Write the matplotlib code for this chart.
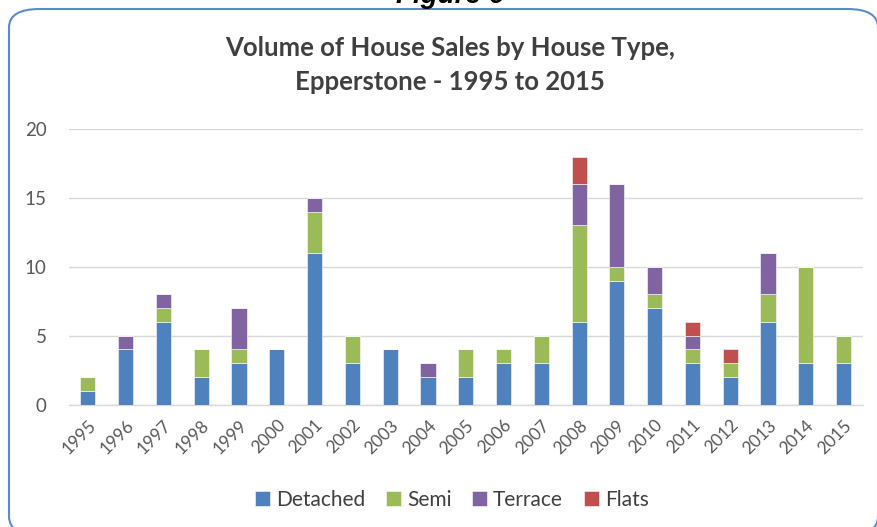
import matplotlib
matplotlib.use("Agg")
import matplotlib.pyplot as plt
from matplotlib.patches import FancyBboxPatch
import numpy as np

years = [str(y) for y in range(1995, 2016)]
detached = [1, 4, 6, 2, 3, 4, 11, 3, 4, 2, 2, 3, 3, 6, 9, 7, 3, 2, 6, 3, 3]
semi     = [1, 0, 1, 2, 1, 0, 3, 2, 0, 0, 2, 1, 2, 7, 1, 1, 1, 1, 2, 7, 2]
terrace  = [0, 1, 1, 0, 3, 0, 1, 0, 0, 1, 0, 0, 0, 3, 6, 2, 1, 0, 3, 0, 0]
flats    = [0, 0, 0, 0, 0, 0, 0, 0, 0, 0, 0, 0, 0, 2, 0, 0, 1, 1, 0, 0, 0]

series = [("Detached", detached, "#4F81BD"),
          ("Semi", semi, "#9BBB59"),
          ("Terrace", terrace, "#8064A2"),
          ("Flats", flats, "#C0504D")]

W, H = 877, 527
fig = plt.figure(figsize=(W / 100, H / 100), dpi=100)

# rounded chart border
box = FancyBboxPatch((9 / W, 1 - 535 / H), 869 / W, 526 / H,
                     boxstyle="round,pad=0,rounding_size=0.035",
                     transform=fig.transFigure, facecolor="white",
                     edgecolor="#5B8BC9", linewidth=1.5, zorder=-5)
fig.patches.append(box)

fig.text(450 / W, 1 - 3 / H, "Figure 6", ha="center", va="baseline",
         fontsize=20, fontweight="bold", fontstyle="italic",
         family="Liberation Sans", color="black")

ax = fig.add_axes([69 / W, 1 - 404.5 / H, 793.5 / W, 275.5 / H])
ax.set_facecolor("none")
ax.set_zorder(2)

x = np.arange(len(years))
bottom = np.zeros(len(years))
for name, vals, col in series:
    ax.bar(x, vals, width=0.4, bottom=bottom, color=col, label=name,
           edgecolor="white", linewidth=0.4, zorder=3)
    bottom += np.array(vals)

ax.set_xlim(-0.5, len(years) - 0.5)
ax.set_ylim(0, 20)
ax.set_yticks([0, 5, 10, 15, 20])
ax.yaxis.grid(True, color="#D9D9D9", linewidth=1, zorder=0)
for s in ["top", "right", "left"]:
    ax.spines[s].set_visible(False)
ax.spines["bottom"].set_color("#D9D9D9")
ax.spines["bottom"].set_linewidth(1)
ax.tick_params(axis="both", length=0, colors="#595959")
ax.tick_params(axis="y", pad=16)
ax.tick_params(axis="x", pad=9)
ax.set_xticks(x)
ax.set_xticklabels(years, rotation=45, ha="right", rotation_mode="anchor",
                   fontsize=12.5, family="Lato")
for lab in ax.get_yticklabels():
    lab.set_family("Lato")
    lab.set_fontsize(13.5)

fig.text(450 / W, 1 - 48 / H, "Volume of House Sales by House Type,",
         ha="center", va="center", fontsize=18.5, fontweight="bold",
         family="Lato", color="#404040")
fig.text(450 / W, 1 - 82 / H, "Epperstone - 1995 to 2015",
         ha="center", va="center", fontsize=18.5, fontweight="bold",
         family="Lato", color="#404040")

leg = fig.legend(loc="center", bbox_to_anchor=(452 / W, 1 - 500 / H), ncol=4,
                 frameon=False, handlelength=0.7, handleheight=0.7,
                 handletextpad=0.3, columnspacing=1.0,
                 prop={"family": "Lato", "size": 15})
for t in leg.get_texts():
    t.set_color("#404040")

fig.savefig("out.png", dpi=100)
